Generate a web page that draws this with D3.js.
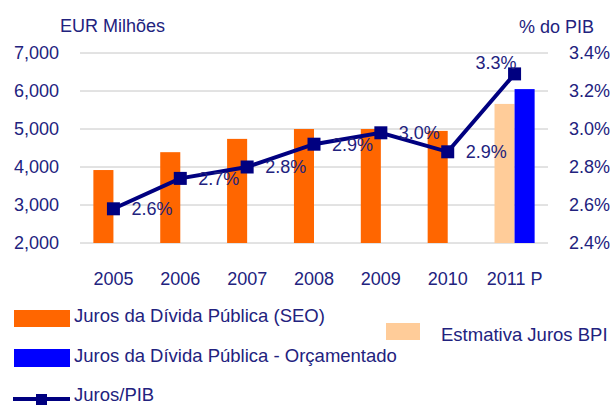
<!DOCTYPE html>
<html>
<head>
<meta charset="utf-8">
<script src="https://cdn.jsdelivr.net/npm/d3@7"></script>
<style>
  html, body { margin: 0; padding: 0; background: #fff; }
  svg { display: block; font-family: "Liberation Sans", Arial, sans-serif; }
</style>
</head>
<body>
<svg id="chart" width="611" height="405"></svg>
<script>
// Categories and series (EUR millions; interest as % of GDP)
const years = ["2005", "2006", "2007", "2008", "2009", "2010", "2011 P"];
const jurosSEO = [3920, 4390, 4740, 5000, 5000, 4950, null];
const estimativaBPI = [null, null, null, null, null, null, 5660];
const jurosOrcamentado = [null, null, null, null, null, null, 6050];
const jurosPIB = [2.58, 2.74, 2.80, 2.92, 2.98, 2.88, 3.29];

const leftTicks = [2000, 3000, 4000, 5000, 6000, 7000];
const rightTicks = [2.4, 2.6, 2.8, 3.0, 3.2, 3.4];

const textColor = "#22227e";
const navy = "#000080";

const svg = d3.select("#chart");

const x = d3.scaleBand().domain(years).range([80, 548]).padding(0);
const yL = d3.scaleLinear().domain([2000, 7000]).range([243, 53]);
const yR = d3.scaleLinear().domain([2.4, 3.4]).range([243, 53]);
const barW = x.bandwidth() * 0.3;
const cx = d => x(d) + x.bandwidth() / 2;

// Gridlines
svg.append("g").selectAll("line").data(leftTicks).join("line")
  .attr("x1", 80).attr("x2", 548)
  .attr("y1", d => yL(d)).attr("y2", d => yL(d))
  .attr("stroke", "#c6c6c6").attr("stroke-width", 1);

// Left axis
const axL = svg.append("g").attr("transform", "translate(80,0)")
  .call(d3.axisLeft(yL).tickValues(leftTicks).tickFormat(d3.format(",")).tickSize(0).tickPadding(21));
axL.select(".domain").remove();
axL.selectAll("text").attr("fill", textColor).attr("font-size", 18)
  .attr("font-family", "Liberation Sans, Arial, sans-serif");

// Right axis
const axR = svg.append("g").attr("transform", "translate(548,0)")
  .call(d3.axisRight(yR).tickValues(rightTicks).tickFormat(d => d3.format(".1f")(d) + "%").tickSize(0).tickPadding(21));
axR.select(".domain").remove();
axR.selectAll("text").attr("fill", textColor).attr("font-size", 18)
  .attr("font-family", "Liberation Sans, Arial, sans-serif");

// Category labels
const axX = svg.append("g").attr("transform", "translate(0,243)")
  .call(d3.axisBottom(x).tickSize(0).tickPadding(29));
axX.select(".domain").remove();
axX.selectAll("text").attr("fill", textColor).attr("font-size", 18)
  .attr("font-family", "Liberation Sans, Arial, sans-serif");

// Axis titles
svg.append("text").attr("x", 60).attr("y", 32).attr("fill", textColor)
  .attr("font-size", 18).text("EUR Milhões");
svg.append("text").attr("x", 519).attr("y", 33).attr("fill", textColor)
  .attr("font-size", 18).text("% do PIB");

// Bars: left slot holds SEO or estimate, right slot holds budgeted value
const bars = svg.append("g");
function drawBars(values, color, offset) {
  bars.selectAll(null).data(years.map((c, i) => ({ c, v: values[i] })).filter(d => d.v != null))
    .join("rect")
    .attr("x", d => cx(d.c) + offset)
    .attr("width", barW)
    .attr("y", d => yL(d.v))
    .attr("height", d => yL(2000) - yL(d.v))
    .attr("fill", color);
}
drawBars(jurosSEO, "#ff6600", -barW);
drawBars(estimativaBPI, "#ffcc99", -barW);
drawBars(jurosOrcamentado, "#0000ff", 0);

// Interest / GDP line
const pts = years.map((c, i) => ({ c, v: jurosPIB[i] }));
svg.append("path").datum(pts)
  .attr("d", d3.line().x(d => cx(d.c)).y(d => yR(d.v)))
  .attr("fill", "none").attr("stroke", navy).attr("stroke-width", 4);
const m = 13;
svg.append("g").selectAll("rect").data(pts).join("rect")
  .attr("x", d => cx(d.c) - m / 2).attr("y", d => yR(d.v) - m / 2)
  .attr("width", m).attr("height", m).attr("fill", navy);

// Data labels
const last = pts.length - 1;
svg.append("g").selectAll("text").data(pts).join("text")
  .attr("x", (d, i) => i === last ? cx(d.c) + 2 : cx(d.c) + 18)
  .attr("y", (d, i) => i === last ? yR(d.v) - 11 : yR(d.v))
  .attr("dy", "0.35em")
  .attr("text-anchor", (d, i) => i === last ? "end" : "start")
  .attr("fill", textColor).attr("font-size", 18)
  .text(d => d3.format(".1f")(d.v) + "%");

// Legend
const lg = svg.append("g").attr("font-size", 18.5).attr("fill", textColor);
lg.append("rect").attr("x", 14).attr("y", 310).attr("width", 56).attr("height", 17).attr("fill", "#ff6600");
lg.append("text").attr("x", 74).attr("y", 322).text("Juros da Dívida Pública (SEO)");
lg.append("rect").attr("x", 14).attr("y", 349).attr("width", 56).attr("height", 18).attr("fill", "#0000ff");
lg.append("text").attr("x", 74).attr("y", 362).text("Juros da Dívida Pública - Orçamentado");
lg.append("line").attr("x1", 13).attr("x2", 70).attr("y1", 399).attr("y2", 399)
  .attr("stroke", navy).attr("stroke-width", 4);
lg.append("rect").attr("x", 36).attr("y", 394).attr("width", 11).attr("height", 11).attr("fill", navy);
lg.append("text").attr("x", 74).attr("y", 401).text("Juros/PIB");
lg.append("rect").attr("x", 386).attr("y", 323).attr("width", 34).attr("height", 17).attr("fill", "#ffcc99");
lg.append("text").attr("x", 441).attr("y", 341).text("Estmativa Juros BPI");
</script>
</body>
</html>
